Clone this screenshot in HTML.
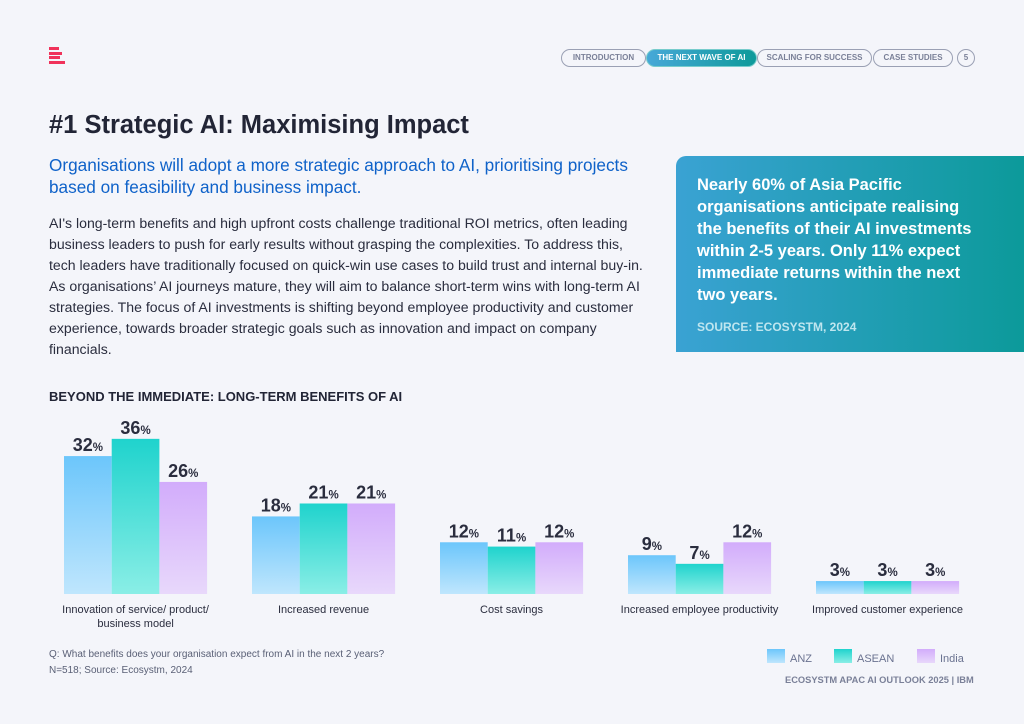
<!DOCTYPE html>
<html><head><meta charset="utf-8">
<style>
body{margin:0;width:1024px;height:724px;background:#f4f5fa;font-family:"Liberation Sans",sans-serif;position:relative;overflow:hidden;color:#2a2d3e}
.abs{position:absolute}
.pill{position:absolute;top:49px;height:16px;border:1.5px solid #9aa0b4;border-radius:9px;font-size:8px;font-weight:bold;color:#7a8098;text-align:center;line-height:16px;box-sizing:content-box}
h1{position:absolute;left:49px;top:111px;margin:0;font-size:25.5px;font-weight:bold;color:#222536}
.sub{left:49px;top:154px;width:610px;font-size:17.2px;line-height:22px;color:#0f62c9}
.body{left:49px;top:213px;white-space:nowrap;font-size:14.1px;line-height:21px;color:#2a2d3e}
.callout{left:676px;top:156px;width:348px;height:196px;background:linear-gradient(90deg,#3aa2d3,#0c9a9a);border-radius:10px 0 0 0}
</style></head><body>
<div class="abs" style="left:49px;top:47px;width:16px;height:17px">
<div style="height:3px;background:#f0325a;margin-bottom:1.7px;width:10px"></div><div style="height:3px;background:#f0325a;margin-bottom:1.7px;width:13px"></div><div style="height:3px;background:#f0325a;margin-bottom:1.7px;width:11px"></div><div style="height:3px;background:#f0325a;width:16px"></div></div>
<div class="pill" style="left:561px;width:83px">INTRODUCTION</div>
<div class="pill" style="left:646px;width:109px;background:linear-gradient(90deg,#47a8d8,#0e9a9a);color:#fff;border-color:#7cc">THE NEXT WAVE OF AI</div>
<div class="pill" style="left:757px;width:113px">SCALING FOR SUCCESS</div>
<div class="pill" style="left:873px;width:78px">CASE STUDIES</div>
<div class="pill" style="left:957px;width:16px">5</div>
<h1>#1 Strategic AI: Maximising Impact</h1>
<div class="abs sub">Organisations will adopt a more strategic approach to AI, prioritising projects based on feasibility and business impact.</div>
<div class="abs body">AI's long-term benefits and high upfront costs challenge traditional ROI metrics, often leading<br>business leaders to push for early results without grasping the complexities. To address this,<br>tech leaders have traditionally focused on quick-win use cases to build trust and internal buy-in.<br>As organisations’ AI journeys mature, they will aim to balance short-term wins with long-term AI<br>strategies. The focus of AI investments is shifting beyond employee productivity and customer<br>experience, towards broader strategic goals such as innovation and impact on company<br>financials.</div>
<div class="abs callout">
<div style="position:absolute;left:21px;top:18px;width:285px;font-size:16.5px;line-height:22px;font-weight:bold;color:#fff">Nearly 60% of Asia Pacific organisations anticipate realising the benefits of their AI investments within 2-5 years. Only 11% expect immediate returns within the next two years.</div>
<div style="position:absolute;left:21px;top:164px;font-size:12px;font-weight:bold;color:#bfe6ef">SOURCE: ECOSYSTM, 2024</div></div>
<div class="abs" style="left:49px;top:389px;font-size:13px;font-weight:bold;color:#222536">BEYOND THE IMMEDIATE: LONG-TERM BENEFITS OF AI</div>
<svg class="abs" style="left:0;top:0" width="1024" height="724" id="chart">
<defs>
<linearGradient id="g0" x1="0" y1="0" x2="0" y2="1"><stop offset="0" stop-color="#6cc6fb"/><stop offset="1" stop-color="#bfe6fd"/></linearGradient>
<linearGradient id="g1" x1="0" y1="0" x2="0" y2="1"><stop offset="0" stop-color="#1fd3cd"/><stop offset="1" stop-color="#8aeee6"/></linearGradient>
<linearGradient id="g2" x1="0" y1="0" x2="0" y2="1"><stop offset="0" stop-color="#d2acfb"/><stop offset="1" stop-color="#e8d8fb"/></linearGradient>
</defs></svg>
<div class="abs" style="left:49px;top:647px;font-size:10px;color:#5a6076;line-height:16px">Q: What benefits does your organisation expect from AI in the next 2 years?<br>N=518; Source: Ecosystm, 2024</div>
<div class="abs" style="left:785px;top:675px;font-size:9.3px;font-weight:bold;color:#7a8098">ECOSYSTM APAC AI OUTLOOK 2025 | IBM</div>
<script>
const categories=["Innovation of service/ product/|business model","Increased revenue","Cost savings","Increased employee productivity","Improved customer experience"];
const seriesNames=["ANZ","ASEAN","India"];
const anz=[32,18,12,9,3];
const asean=[36,21,11,7,3];
const india=[26,21,12,12,3];
const NS="http://www.w3.org/2000/svg";
const svg=document.getElementById('chart');
const base=594, scale=4.31, g0=64, gStep=188, bw=47.7;
const y=v=>base-v*scale;
const x=(gi,si)=>g0+gi*gStep+si*bw;
const series=[anz,asean,india];
function mk(t,a){const e=document.createElementNS(NS,t);for(const k in a)e.setAttribute(k,a[k]);svg.appendChild(e);return e;}
series.forEach((vals,si)=>{vals.forEach((v,gi)=>{
 const r=mk('rect',{x:x(gi,si),y:y(v),width:bw,height:base-y(v),fill:'url(#g'+si+')'});
 
 
 const t=mk('text',{x:x(gi,si)+bw/2,y:y(v)-5,'text-anchor':'middle','font-family':'Liberation Sans, sans-serif','font-weight':'bold','font-size':'18',fill:'#2a2d3e'});
 t.innerHTML=v+'<tspan font-size="11.5">%</tspan>';
 
 
});});
categories.forEach((c,gi)=>{c.split('|').forEach((ln,li)=>{
 const t=mk('text',{x:g0+gi*gStep+1.5*bw,y:613+li*14,'text-anchor':'middle','font-family':'Liberation Sans, sans-serif','font-size':'11',fill:'#2a2d3e'});
 t.textContent=ln;
 
 
});});
const lx=[767,834,917];
seriesNames.forEach((n,i)=>{
 const r=mk('rect',{x:lx[i],y:649,width:18,height:14,fill:'url(#g'+i+')'});
 
 
 const t=mk('text',{x:lx[i]+23,y:662,'font-family':'Liberation Sans, sans-serif','font-size':'11',fill:'#6a7290'});
 t.textContent=n;
 
 
});
</script>
</body></html>
